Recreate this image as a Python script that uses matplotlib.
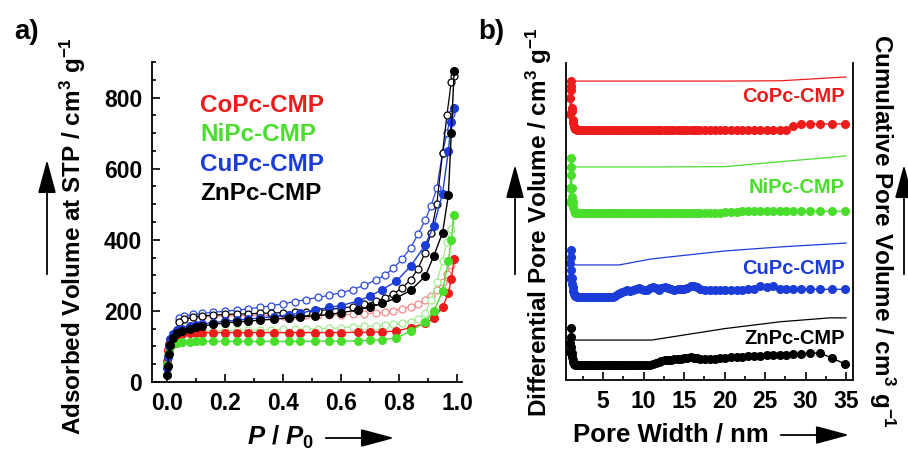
import matplotlib.pyplot as plt
from matplotlib.ticker import MultipleLocator

plt.rcParams['font.family'] = ['Liberation Sans', 'DejaVu Sans']
plt.rcParams['font.weight'] = 'bold'
plt.rcParams['mathtext.fontset'] = 'custom'
plt.rcParams['mathtext.rm'] = 'Liberation Sans:bold'
plt.rcParams['mathtext.it'] = 'Liberation Sans:italic:bold'
plt.rcParams['mathtext.bf'] = 'Liberation Sans:bold'

samples = ['CoPc-CMP', 'NiPc-CMP', 'CuPc-CMP', 'ZnPc-CMP']
colors = ['#ec1c1c', '#4ade2c', '#1c3cd8', '#000000']
open_colors = ['#f58a8a', '#a2ec90', '#2a48dc', '#000000']

# ---- a) N2 isotherms (adsorption = filled, desorption = open)
p_ads = [0.001, 0.003, 0.006, 0.01, 0.02, 0.035, 0.05, 0.08, 0.1, 0.12, 0.16,
         0.2, 0.24, 0.28, 0.32, 0.37, 0.42, 0.46, 0.51, 0.56, 0.6, 0.66, 0.7,
         0.74, 0.79, 0.84, 0.89, 0.92, 0.95, 0.97, 0.98, 0.99]
co_ads = [60, 90, 108, 118, 127, 132, 135, 137, 138, 139, 139, 139, 139, 139,
          139, 139, 139, 139, 139, 139, 139, 140, 140, 141, 143, 153, 165, 180,
          210, 250, 290, 345]
ni_ads = [50, 75, 92, 100, 106, 110, 112, 113, 114, 114, 114, 114, 114, 114,
          114, 114, 114, 114, 115, 115, 115, 116, 117, 119, 124, 143, 168, 200,
          255, 340, 400, 470]
cu_ads = [40, 70, 100, 120, 135, 145, 150, 157, 160, 163, 167, 171, 174, 177,
          180, 184, 189, 194, 202, 210, 215, 228, 242, 259, 283, 326, 385, 440,
          530, 650, 730, 770]
zn_ads = [20, 45, 80, 105, 125, 137, 143, 150, 154, 157, 162, 166, 169, 171,
          174, 177, 180, 183, 186, 190, 195, 203, 211, 221, 236, 258, 297, 355,
          420, 525, 700, 875]

p_des = [0.99, 0.98, 0.965, 0.95, 0.93, 0.91, 0.89, 0.865, 0.84, 0.81, 0.78,
         0.75, 0.72, 0.68, 0.64, 0.6, 0.56, 0.52, 0.48, 0.44, 0.4, 0.36, 0.32,
         0.28, 0.24, 0.2, 0.16, 0.12, 0.09, 0.06, 0.04]
co_des = [345, 330, 305, 280, 258, 242, 230, 220, 212, 206, 201, 197, 194, 192,
          190, 189, 189, 188, 188, 188, 187, 187, 187, 187, 186, 186, 185, 184,
          182, 178, 172]
ni_des = [470, 430, 395, 340, 280, 230, 195, 178, 170, 165, 162, 160, 158, 157,
          156, 152, 151, 150, 149, 148, 148, 147, 146, 146, 145, 145, 144, 143,
          142, 140, 138]
cu_des = [770, 755, 700, 645, 545, 495, 455, 415, 378, 345, 320, 300, 287, 272,
          260, 251, 244, 238, 232, 226, 220, 215, 210, 206, 202, 199, 196, 193,
          190, 186, 180]
zn_des = [860, 845, 750, 645, 500, 420, 364, 318, 288, 264, 248, 236, 227, 218,
          212, 208, 204, 200, 198, 196, 195, 194, 193, 192, 191, 190, 188, 186,
          182, 176, 170]

ads = [co_ads, ni_ads, cu_ads, zn_ads]
des = [co_des, ni_des, cu_des, zn_des]

# ---- b) pore size distributions (offset vertically, arbitrary units)
pore_width = [0.9, 0.95, 1.0, 1.05, 1.1, 1.15, 1.2, 1.25, 1.3, 1.4, 1.5, 1.6,
              1.8, 2.0,
              2.3, 2.6, 2.9, 3.2, 3.5, 3.8, 4.1, 4.4, 4.7, 5.0, 5.3, 5.6, 5.9,
              6.2, 6.5, 6.8, 7.1, 7.4, 7.7, 8.0, 8.35, 8.7, 9.05, 9.4, 9.75,
              10.1, 10.45, 10.8, 11.15, 11.5, 11.85, 12.2, 12.6, 13.0, 13.4,
              13.8, 14.2, 14.6, 15.0, 15.4, 15.8, 16.2, 16.6, 17.0,
              17.6, 18.2, 18.8, 19.4, 20.1, 20.8, 21.5, 22.2, 22.9, 23.6, 24.4,
              25.2, 26.0, 26.8, 27.6, 28.5, 29.5, 30.6, 31.8, 33.3, 34.9]
co_dv = [5, 10, 15.5, 14, 12.6, 7, 6, 3, 2.3, 1, 0.5, 0.2, 0, 0,
         0, 0, 0, 0, 0, 0, 0, 0, 0, 0, 0, 0, 0, 0, 0, 0, 0, 0, 0, 0, 0, 0,
         0, 0, 0, 0, 0, 0, 0, 0, 0, 0, 0, 0, 0, 0, 0, 0, 0, 0, 0, 0, 0, 0,
         0, 0, 0, 0, 0, 0, 0, 0, 0, 0, 0, 0, 0, 0, 0, 1.3, 1.8, 1.9, 1.9,
         1.9, 1.9]
ni_dv = [3.5, 8, 12, 17.4, 14.5, 7.9, 5, 3.5, 1.9, 1, 0.4, 0.1, 0, 0,
         0, 0, 0, 0, 0, 0, 0, 0, 0, 0, 0, 0, 0, 0, 0, 0, 0, 0, 0, 0, 0, 0,
         0, 0, 0, 0, 0, 0, 0, 0, 0, 0, 0, 0, 0, 0, 0, 0, 0, 0, 0, 0, 0, 0,
         0, 0, 0, 0.1, 0.2, 0.3, 0.4, 0.5, 0.5, 0.6, 0.7, 0.6, 0.5, 0.5, 0.5,
         0.5, 0.5, 0.5, 0.5, 0.5, 0.5]
cu_dv = [6, 10.7, 14.8, 12.6, 8.5, 6, 4, 3.2, 2, 1, 0.5, 0.2, 0, 0,
         0, 0, 0, 0, 0, 0, 0, 0, 0, 0, 0, 0, 0, 0,
         0.3, 0.8, 1.3, 1.6, 2.0, 2.2, 2.0, 2.3, 2.6, 2.7, 2.4, 2.1, 2.3, 2.8,
         3.0, 2.7, 2.3, 2.8, 3.2, 2.9, 2.4, 2.2, 2.4, 2.6, 2.6, 2.9, 3.3, 3.4,
         3.1, 2.6,
         2.2, 2.1, 2.1, 2.1, 2.2, 2.2, 2.2, 2.3, 2.4, 2.6, 3.3, 3.0, 3.3, 2.6,
         2.4, 2.4, 2.4, 2.4, 2.4, 2.4, 2.4]
zn_dv = [4, 7, 11.7, 8.8, 5.7, 3.8, 2.5, 1.5, 1, 0.5, 0.2, 0, 0, 0,
         0, 0, 0, 0, 0, 0, 0, 0, 0, 0, 0, 0, 0, 0, 0, 0, 0, 0, 0, 0, 0, 0,
         0, 0, 0, 0, 0, 0,
         0.3, 0.8, 1.1, 1.3, 1.5, 1.6, 1.7, 1.8, 1.9, 2.0, 2.1, 2.3, 2.4, 2.3,
         2.1, 2.0,
         1.9, 1.9, 2.0, 2.1, 2.2, 2.4, 2.6, 2.7, 2.8, 2.9, 3.0, 3.1, 3.2, 3.3,
         3.3, 3.4, 3.4, 3.8, 3.8, 2.2, 0.3]
dv = [co_dv, ni_dv, cu_dv, zn_dv]

cum_width = [0.7, 7, 11, 20, 27, 33, 35]
co_cum = [15.4, 15.4, 15.4, 15.4, 15.5, 16.4, 16.7]
ni_cum = [14.5, 14.5, 14.5, 14.6, 16.2, 17.5, 18.0]
cu_cum = [10.1, 10.1, 12.0, 14.5, 15.8, 16.7, 17.0]
zn_cum = [7.9, 7.9, 7.9, 11.5, 13.7, 14.9, 14.9]
cum = [co_cum, ni_cum, cu_cum, zn_cum]

offsets = [78.9, 52.7, 26.2, 4.7]
label_y = [89.3, 60.6, 35.3, 13.2]

W, H = 908, 453
fig = plt.figure(figsize=(W / 100, H / 100), dpi=100)


def fx(px):
    return px / W


def fy(py):
    return 1 - py / H


def arrow(x0, y0, x1, y1):
    fig.add_artist(plt.matplotlib.patches.FancyArrowPatch(
        (fx(x0), fy(y0)), (fx(x1), fy(y1)), transform=fig.transFigure,
        arrowstyle='-|>,head_length=1.3,head_width=0.35', mutation_scale=16,
        lw=1.3, color='black'))


# panel a
ax1 = fig.add_axes([fx(152), fy(382), fx(462) - fx(152), fy(62) - fy(382)])
for i in range(4):
    ax1.plot(p_des, des[i], '-o', color=open_colors[i], mfc='white',
             mec=open_colors[i], ms=5, mew=0.9, lw=0.9, zorder=2 + i)
for i in range(4):
    ax1.plot(p_ads, ads[i], '-o', color=colors[i], mfc=colors[i],
             mec=colors[i], ms=5.5, lw=1.0, zorder=6 + i)
ax1.set_xlim(-0.052, 1.017)
ax1.set_ylim(0, 900)
ax1.xaxis.set_minor_locator(MultipleLocator(0.1))
ax1.yaxis.set_major_locator(MultipleLocator(200))
ax1.yaxis.set_minor_locator(MultipleLocator(50))
ax1.set_xticks([0, 0.2, 0.4, 0.6, 0.8, 1.0])
ax1.set_xticklabels(['0.0', '0.2', '0.4', '0.6', '0.8', '1.0'])
ax1.spines['top'].set_visible(False)
ax1.spines['right'].set_visible(False)
for s in ax1.spines.values():
    s.set_linewidth(1.3)
ax1.tick_params(which='both', direction='in', width=1.2, labelsize=16.5)
ax1.tick_params(which='major', length=6, pad=7)
ax1.tick_params(which='minor', length=3)
for i in range(4):
    ax1.text(fx(200), fy(105 + 29.5 * i), samples[i], color=colors[i],
             fontsize=17.5, fontweight='bold', va='center', ha='left',
             transform=fig.transFigure)

# panel b
ax2 = fig.add_axes([fx(566), fy(380), fx(853) - fx(566), fy(63) - fy(380)])
for i in range(4):
    y = [v + offsets[i] for v in dv[i]]
    ax2.plot(pore_width, y, '-o', color=colors[i], ms=5.5, lw=1.0)
    yc = [v + offsets[i] for v in cum[i]]
    ax2.plot(cum_width, yc, '-', color=colors[i], lw=0.9)
    ax2.text(34.9, label_y[i], samples[i], color=colors[i], fontsize=14.5,
             fontweight='bold', ha='right', va='center')
ax2.set_xlim(0.43, 35.86)
ax2.set_ylim(0, 100)
ax2.xaxis.set_minor_locator(MultipleLocator(2.5))
ax2.set_xticks([5, 10, 15, 20, 25, 30, 35])
ax2.set_yticks([])
ax2.spines['top'].set_visible(False)
for s in ax2.spines.values():
    s.set_linewidth(1.3)
ax2.tick_params(which='both', direction='in', width=1.2, labelsize=16.5)
ax2.tick_params(which='major', length=6, pad=7)
ax2.tick_params(which='minor', length=3)

# labels and arrows
fig.text(fx(27), fy(32), 'a)', fontsize=20, fontweight='bold', ha='center', va='center')
fig.text(fx(491), fy(32), 'b)', fontsize=20, fontweight='bold', ha='center', va='center')
fig.text(fx(73), fy(236), r'Adsorbed Volume at STP / cm$^{\mathbf{3}}$ g$^{\mathbf{-1}}$',
         rotation=90, fontsize=17.5, fontweight='bold', ha='center', va='center')
fig.text(fx(281), fy(437), r'$P$ / $P_{\mathbf{0}}$', fontsize=18.5,
         ha='center', va='center')
fig.text(fx(539), fy(222), r'Differential Pore Volume / cm$^{\mathbf{3}}$ g$^{\mathbf{-1}}$',
         rotation=90, fontsize=17.5, fontweight='bold', ha='center', va='center')
fig.text(fx(882), fy(231), r'Cumulative Pore Volume / cm$^{\mathbf{3}}$ g$^{\mathbf{-1}}$',
         rotation=-90, fontsize=17.5, fontweight='bold', ha='center', va='center')
fig.text(fx(671), fy(435), 'Pore Width / nm', fontsize=18.5, fontweight='bold',
         ha='center', va='center')

arrow(47, 277, 47, 157)
arrow(323, 438, 397, 438)
arrow(515, 277, 515, 162)
arrow(778, 435, 852, 435)
arrow(904, 277, 904, 162)

fig.savefig('out.png', dpi=100)
